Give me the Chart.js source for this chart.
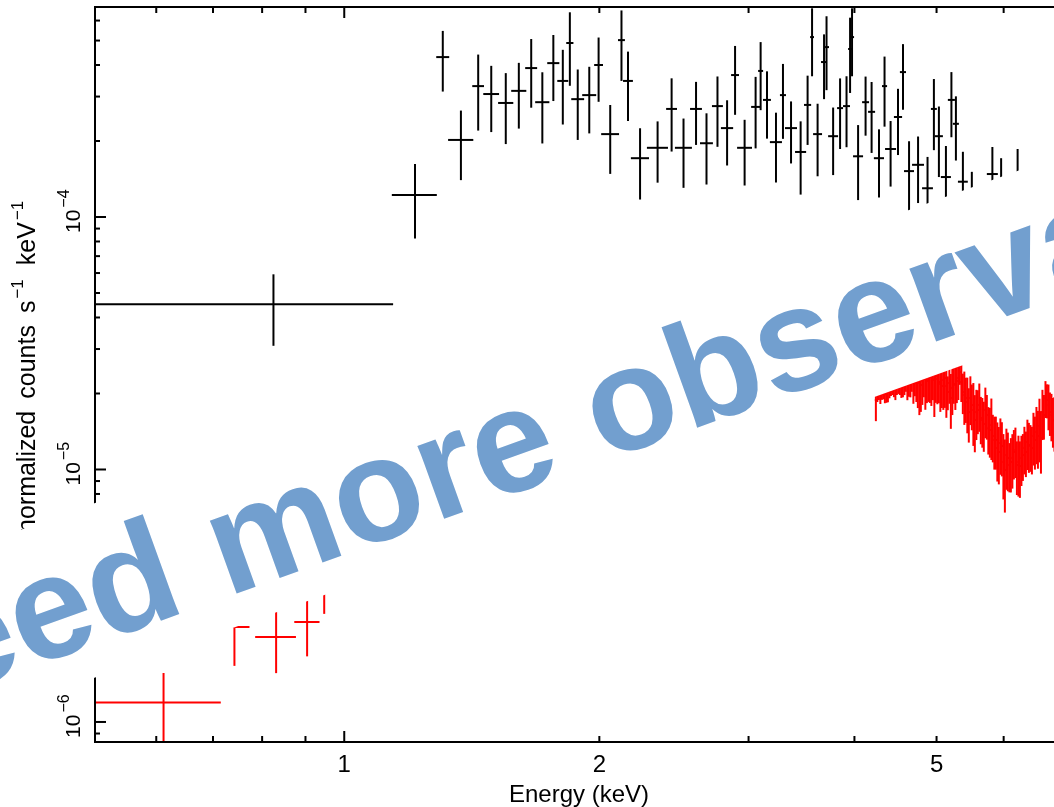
<!DOCTYPE html>
<html>
<head>
<meta charset="utf-8">
<script src="https://cdn.jsdelivr.net/npm/chart.js@4.4.0/dist/chart.umd.min.js"></script>
<style>
  html, body { margin: 0; padding: 0; background: #fff; overflow: hidden; }
  #wrap { width: 1054px; height: 807px; overflow: hidden; }
  canvas { display: block; }
</style>
</head>
<body>
<div id="wrap"><canvas id="spec" width="1100" height="807"></canvas></div>
<script>
// spectrum 1 (black): bin centre energy, half width (keV), flux and 1-sigma error
const blackE = [0.825, 1.212, 1.307, 1.373, 1.439, 1.491, 1.551, 1.607, 1.662, 1.713,
  1.765, 1.811, 1.846, 1.886, 1.946, 1.996, 2.060, 2.124, 2.162, 2.234,
  2.343, 2.434, 2.514, 2.601, 2.676, 2.757, 2.830, 2.892, 2.968, 3.058,
  3.100, 3.154, 3.232, 3.294, 3.367, 3.456, 3.522, 3.565, 3.619, 3.683,
  3.708, 3.775, 3.847, 3.915, 3.953, 3.974, 4.040, 4.123, 4.191, 4.276,
  4.341, 4.413, 4.503, 4.564, 4.640, 4.755, 4.879, 4.964, 5.032, 5.129,
  5.206, 5.270, 5.371, 5.503, 5.819, 5.959, 6.232];
const blackDE = [0.317, 0.074, 0.023, 0.047, 0.023, 0.032, 0.032, 0.033, 0.027, 0.033,
  0.029, 0.027, 0.018, 0.033, 0.037, 0.024, 0.050, 0.020, 0.029, 0.055,
  0.067, 0.036, 0.058, 0.042, 0.047, 0.041, 0.047, 0.031, 0.060, 0.037,
  0.021, 0.034, 0.053, 0.027, 0.055, 0.052, 0.034, 0.019, 0.044, 0.030,
  0.025, 0.051, 0.031, 0.037, 0.021, 0.022, 0.055, 0.039, 0.040, 0.059,
  0.030, 0.066, 0.050, 0.038, 0.063, 0.077, 0.072, 0.040, 0.055, 0.070,
  0.050, 0.043, 0.072, 0.030, 0.087, 0.050, 0.060];
const blackF = [4.51e-5, 1.222e-4, 4.30e-4, 2.02e-4, 3.30e-4, 3.07e-4, 2.83e-4, 3.16e-4, 3.89e-4, 2.85e-4,
  4.07e-4, 3.46e-4, 4.89e-4, 2.93e-4, 3.04e-4, 4.00e-4, 2.13e-4, 5.02e-4, 3.46e-4, 1.71e-4,
  1.88e-4, 2.68e-4, 1.88e-4, 2.68e-4, 1.96e-4, 2.75e-4, 2.25e-4, 3.65e-4, 1.88e-4, 2.73e-4,
  3.79e-4, 2.91e-4, 1.98e-4, 3.04e-4, 2.25e-4, 1.81e-4, 2.78e-4, 5.16e-4, 2.13e-4, 4.11e-4,
  4.71e-4, 2.09e-4, 2.70e-4, 2.75e-4, 4.63e-4, 5.16e-4, 1.74e-4, 2.85e-4, 2.61e-4, 1.71e-4,
  3.30e-4, 1.86e-4, 2.49e-4, 3.75e-4, 1.52e-4, 1.61e-4, 1.30e-4, 2.68e-4, 2.09e-4, 1.44e-4,
  2.91e-4, 2.34e-4, 1.38e-4, 1.12e-4, 1.48e-4, 1.28e-4, 1.40e-4];
const blackErr = [1.42e-5, 0.40e-4, 1.16e-4, 0.62e-4, 1.10e-4, 0.90e-4, 0.885e-4, 0.92e-4, 1.18e-4, 0.894e-4,
  1.19e-4, 1.135e-4, 1.58e-4, 0.91e-4, 0.896e-4, 1.14e-4, 0.648e-4, 1.56e-4, 1.06e-4, 0.537e-4,
  0.512e-4, 0.863e-4, 0.575e-4, 0.75e-4, 0.615e-4, 0.853e-4, 0.65e-4, 1.11e-4, 0.547e-4, 0.86e-4,
  1.14e-4, 0.866e-4, 0.61e-4, 1.00e-4, 0.62e-4, 0.583e-4, 0.85e-4, 1.55e-4, 0.68e-4, 1.18e-4,
  1.53e-4, 0.624e-4, 0.84e-4, 0.86e-4, 1.53e-4, 1.55e-4, 0.573e-4, 0.75e-4, 0.816e-4, 0.515e-4,
  1.02e-4, 0.54e-4, 0.73e-4, 1.09e-4, 0.476e-4, 0.474e-4, 0.43e-4, 0.84e-4, 0.65e-4, 0.471e-4,
  0.84e-4, 0.666e-4, 0.433e-4, 0.39e-4, 0.414e-4, 0.43e-4, 0.46e-4];

// spectrum 2 (red): a few soft bins, then the finely binned hard band
const redE = [0.612, 0.742, 0.831, 0.904, 0.947,
  4.240, 4.257, 4.275, 4.292, 4.310, 4.327, 4.345, 4.363, 4.381, 4.399,
  4.417, 4.435, 4.453, 4.471, 4.489, 4.507, 4.526, 4.544, 4.563, 4.582,
  4.600, 4.619, 4.638, 4.657, 4.675, 4.695, 4.714, 4.733, 4.752, 4.772,
  4.791, 4.811, 4.830, 4.850, 4.870, 4.890, 4.910, 4.930, 4.950, 4.970,
  4.990, 5.011, 5.031, 5.052, 5.072, 5.093, 5.114, 5.135, 5.155, 5.177,
  5.198, 5.219, 5.240, 5.262, 5.283, 5.305, 5.326, 5.348, 5.370, 5.392,
  5.414, 5.436, 5.458, 5.481, 5.503, 5.526, 5.548, 5.571, 5.593, 5.616,
  5.639, 5.662, 5.685, 5.709, 5.732, 5.755, 5.779, 5.803, 5.826, 5.850,
  5.874, 5.898, 5.922, 5.947, 5.971, 5.996, 6.020, 6.045, 6.069, 6.094,
  6.119, 6.144, 6.169, 6.195, 6.220, 6.246, 6.271, 6.297, 6.322, 6.348,
  6.374, 6.400, 6.426, 6.453, 6.479, 6.506, 6.532, 6.559, 6.586, 6.613,
  6.640, 6.667, 6.694, 6.722, 6.749, 6.777, 6.804, 6.832, 6.860, 6.888,
  6.916, 6.945, 6.973];
const redDE = [0.103, 0.031, 0.046, 0.031, 0.020,
  0.012, 0.012, 0.012, 0.012, 0.012, 0.012, 0.012, 0.012, 0.012, 0.012,
  0.012, 0.012, 0.012, 0.012, 0.012, 0.012, 0.012, 0.012, 0.012, 0.012,
  0.013, 0.013, 0.013, 0.013, 0.013, 0.013, 0.013, 0.013, 0.013, 0.013,
  0.013, 0.013, 0.013, 0.013, 0.013, 0.013, 0.013, 0.013, 0.013, 0.013,
  0.015, 0.015, 0.015, 0.015, 0.015, 0.015, 0.015, 0.015, 0.015, 0.015,
  0.015, 0.015, 0.015, 0.015, 0.015, 0.015, 0.015, 0.015, 0.015, 0.015,
  0.016, 0.016, 0.016, 0.016, 0.016, 0.016, 0.016, 0.016, 0.016, 0.016,
  0.016, 0.016, 0.016, 0.016, 0.016, 0.016, 0.016, 0.016, 0.016, 0.016,
  0.018, 0.018, 0.018, 0.018, 0.018, 0.018, 0.018, 0.018, 0.018, 0.018,
  0.018, 0.018, 0.018, 0.018, 0.018, 0.018, 0.018, 0.018, 0.018, 0.018,
  0.020, 0.020, 0.020, 0.020, 0.020, 0.020, 0.020, 0.020, 0.020, 0.020,
  0.020, 0.020, 0.020, 0.020, 0.020, 0.020, 0.020, 0.020, 0.020, 0.020,
  0.020, 0.020, 0.020];
const redF = [1.193e-6, 2.378e-6, 2.171e-6, 2.489e-6, 3.49e-6,
  1.884e-5, 1.990e-5, 2.009e-5, 2.027e-5, 2.027e-5, 2.046e-5, 1.990e-5, 2.027e-5, 2.046e-5, 2.084e-5,
  2.065e-5, 2.103e-5, 2.084e-5, 2.103e-5, 2.103e-5, 2.142e-5, 2.142e-5, 2.161e-5, 2.122e-5, 2.181e-5,
  2.181e-5, 2.201e-5, 2.161e-5, 2.201e-5, 2.201e-5, 2.221e-5, 2.221e-5, 2.201e-5, 2.201e-5, 2.262e-5,
  2.161e-5, 2.242e-5, 2.283e-5, 2.304e-5, 2.242e-5, 2.262e-5, 2.325e-5, 2.325e-5, 2.262e-5, 2.304e-5,
  2.346e-5, 2.283e-5, 2.221e-5, 2.181e-5, 2.142e-5, 2.262e-5, 2.304e-5, 2.142e-5, 2.027e-5, 2.201e-5,
  1.919e-5, 2.103e-5, 2.181e-5, 2.161e-5, 2.242e-5, 2.304e-5, 2.434e-5, 2.221e-5, 2.027e-5, 1.972e-5,
  1.919e-5, 1.851e-5, 1.688e-5, 1.919e-5, 1.800e-5, 1.720e-5, 1.570e-5, 1.688e-5, 1.720e-5, 1.800e-5,
  1.599e-5, 1.570e-5, 1.515e-5, 1.720e-5, 1.643e-5, 1.456e-5, 1.434e-5, 1.500e-5, 1.357e-5, 1.309e-5,
  1.309e-5, 1.216e-5, 1.173e-5, 1.273e-5, 1.239e-5, 1.071e-5, 0.995e-5, 1.141e-5, 1.110e-5, 1.042e-5,
  1.071e-5, 1.110e-5, 1.173e-5, 1.195e-5, 1.042e-5, 1.071e-5, 1.032e-5, 1.110e-5, 1.141e-5, 1.216e-5,
  1.173e-5, 1.285e-5, 1.250e-5, 1.239e-5, 1.216e-5, 1.357e-5, 1.309e-5, 1.409e-5, 1.357e-5, 1.487e-5,
  1.333e-5, 1.688e-5, 1.643e-5, 1.919e-5, 1.884e-5, 1.800e-5, 1.688e-5, 1.643e-5, 1.570e-5, 1.557e-5,
  1.500e-5, 1.470e-5, 1.434e-5];
const redErr = [0.37e-6, 0.71e-6, 0.61e-6, 0.67e-6, 0.81e-6,
  0.33e-5, 0.14e-5, 0.125e-5, 0.21e-5, 0.14e-5, 0.15e-5, 0.16e-5, 0.19e-5, 0.20e-5, 0.17e-5,
  0.11e-5, 0.13e-5, 0.15e-5, 0.22e-5, 0.13e-5, 0.15e-5, 0.17e-5, 0.24e-5, 0.19e-5, 0.21e-5,
  0.15e-5, 0.32e-5, 0.22e-5, 0.27e-5, 0.17e-5, 0.40e-5, 0.27e-5, 0.35e-5, 0.45e-5, 0.62e-5,
  0.47e-5, 0.44e-5, 0.35e-5, 0.58e-5, 0.41e-5, 0.41e-5, 0.49e-5, 0.54e-5, 0.38e-5, 0.69e-5,
  0.51e-5, 0.47e-5, 0.39e-5, 0.49e-5, 0.39e-5, 0.54e-5, 0.55e-5, 0.54e-5, 0.31e-5, 0.38e-5,
  0.47e-5, 0.46e-5, 0.36e-5, 0.44e-5, 0.41e-5, 0.42e-5, 0.27e-5, 0.37e-5, 0.37e-5, 0.47e-5,
  0.39e-5, 0.46e-5, 0.41e-5, 0.42e-5, 0.37e-5, 0.48e-5, 0.40e-5, 0.38e-5, 0.34e-5, 0.39e-5,
  0.34e-5, 0.35e-5, 0.34e-5, 0.39e-5, 0.33e-5, 0.31e-5, 0.32e-5, 0.41e-5, 0.29e-5, 0.31e-5,
  0.31e-5, 0.32e-5, 0.30e-5, 0.32e-5, 0.30e-5, 0.31e-5, 0.32e-5, 0.31e-5, 0.29e-5, 0.23e-5,
  0.26e-5, 0.27e-5, 0.26e-5, 0.27e-5, 0.25e-5, 0.29e-5, 0.26e-5, 0.25e-5, 0.24e-5, 0.26e-5,
  0.24e-5, 0.29e-5, 0.28e-5, 0.26e-5, 0.26e-5, 0.32e-5, 0.31e-5, 0.36e-5, 0.35e-5, 0.42e-5,
  0.37e-5, 0.38e-5, 0.33e-5, 0.32e-5, 0.29e-5, 0.37e-5, 0.33e-5, 0.35e-5, 0.35e-5, 0.38e-5,
  0.36e-5, 0.36e-5, 0.34e-5];

// axes
const xRange = [0.508, 7.05];
const yRange = [8.33e-7, 6.79e-4];
const xMajorTicks = [1];
const xMinorTicks = [0.6, 0.7, 0.8, 0.9, 2, 3, 4, 5, 6, 7];
const xTickLabels = [1, 2, 5];
const yMajorTicks = [1e-6, 1e-5, 1e-4];
const yMinorTicks = [9e-7, 2e-6, 3e-6, 4e-6, 5e-6, 6e-6, 7e-6, 8e-6, 9e-6,
  2e-5, 3e-5, 4e-5, 5e-5, 6e-5, 7e-5, 8e-5, 9e-5, 2e-4, 3e-4, 4e-4, 5e-4, 6e-4];
const yTickExponents = [-6, -5, -4];

const xTitle = 'Energy (keV)';
// y title pieces: [text, superscript?, gap after]
const yTitle = [['normalized', false, 12], ['counts', false, 12], ['s', false, 2],
  ['\u22121', true, 14], ['keV', false, 2], ['\u22121', true, 0]];
const stamp = 'Need more observations';

const FONT = "'Liberation Sans', Arial, sans-serif";

function seg(ctx, x1, y1, x2, y2) {
  ctx.beginPath();
  ctx.moveTo(x1, y1);
  ctx.lineTo(x2, y2);
  ctx.stroke();
}

// error crosses, one per bin
function drawCrosses(chart, es, des, fs, errs, color) {
  const { ctx, chartArea: a } = chart;
  const x = chart.scales.x, y = chart.scales.y;
  ctx.save();
  ctx.beginPath();
  ctx.rect(a.left, a.top, a.right - a.left, a.bottom - a.top);
  ctx.clip();
  ctx.strokeStyle = color;
  ctx.lineWidth = 2;
  for (let i = 0; i < es.length; i++) {
    const px = x.getPixelForValue(es[i]);
    const py = y.getPixelForValue(fs[i]);
    const lo = fs[i] - errs[i];
    seg(ctx, x.getPixelForValue(es[i] - des[i]), py, x.getPixelForValue(es[i] + des[i]), py);
    seg(ctx, px, y.getPixelForValue(fs[i] + errs[i]), px, lo > 0 ? y.getPixelForValue(lo) : a.bottom + 5);
  }
  ctx.restore();
}

function drawAxes(chart) {
  const { ctx, chartArea: a } = chart;
  const x = chart.scales.x, y = chart.scales.y;
  ctx.save();
  ctx.strokeStyle = '#000';
  ctx.lineWidth = 2;
  seg(ctx, a.left, a.top, a.left, a.bottom);
  seg(ctx, a.left - 1, a.top, a.right, a.top);
  seg(ctx, a.left - 1, a.bottom, a.right, a.bottom);

  xMajorTicks.concat(xMinorTicks).forEach(v => {
    const len = xMajorTicks.includes(v) ? 11 : 6;
    const px = x.getPixelForValue(v);
    seg(ctx, px, a.bottom, px, a.bottom - len);
    seg(ctx, px, a.top, px, a.top + len);
  });
  yMajorTicks.concat(yMinorTicks).forEach(v => {
    const len = yMajorTicks.includes(v) ? 11 : 5;
    const py = y.getPixelForValue(v);
    seg(ctx, a.left, py, a.left + len, py);
  });

  ctx.fillStyle = '#000';
  ctx.font = `24px ${FONT}`;
  ctx.textAlign = 'center';
  ctx.textBaseline = 'alphabetic';
  xTickLabels.forEach(v => ctx.fillText(String(v), x.getPixelForValue(v), 772));
  ctx.fillText(xTitle, (a.left + a.right) / 2, 802);

  // rotated decade labels 10^n
  ctx.textAlign = 'left';
  yMajorTicks.forEach((v, i) => {
    const py = y.getPixelForValue(v);
    ctx.save();
    ctx.translate(80, py + 16);
    ctx.rotate(-Math.PI / 2);
    ctx.font = `21px ${FONT}`;
    ctx.fillText('10', 0, 0);
    const w = ctx.measureText('10').width;
    ctx.font = `16px ${FONT}`;
    ctx.fillText('\u2212' + Math.abs(yTickExponents[i]), w + 2, -11);
    ctx.restore();
  });

  // y title, read upwards from just above the lower end of the axis
  ctx.save();
  ctx.translate(35, 533);
  ctx.rotate(-Math.PI / 2);
  let cx = 0;
  yTitle.forEach(([t, sup, gap]) => {
    ctx.font = sup ? `17px ${FONT}` : `25px ${FONT}`;
    ctx.fillText(t, cx, sup ? -12 : 0);
    cx += ctx.measureText(t).width + gap;
  });
  ctx.restore();
  ctx.restore();
}

// banner lettering on its own white strip
function drawStamp(chart) {
  const ctx = chart.ctx;
  const size = 147;
  ctx.save();
  ctx.translate(-149.7, 732.5);
  ctx.rotate(-19.8 * Math.PI / 180);
  ctx.font = `bold ${size}px ${FONT}`;
  const w = ctx.measureText(stamp).width;
  ctx.fillStyle = '#fff';
  ctx.fillRect(-20, -0.905 * size, w + 40, 1.117 * size);
  ctx.fillStyle = '#729fcf';
  ctx.textBaseline = 'alphabetic';
  ctx.fillText(stamp, 0, 0);
  ctx.restore();
}

const spectrumPlugin = {
  id: 'spectrum',
  afterDraw(chart) {
    drawCrosses(chart, blackE, blackDE, blackF, blackErr, '#000');
    drawCrosses(chart, redE, redDE, redF, redErr, '#ff0000');
    drawAxes(chart);
    drawStamp(chart);
  }
};

const ctx = document.getElementById('spec').getContext('2d');
new Chart(ctx, {
  type: 'scatter',
  data: {
    datasets: [
      { label: 'black', data: blackE.map((e, i) => ({ x: e, y: blackF[i] })), pointRadius: 0, borderColor: '#000' },
      { label: 'red', data: redE.map((e, i) => ({ x: e, y: redF[i] })), pointRadius: 0, borderColor: '#f00' }
    ]
  },
  options: {
    responsive: false,
    animation: false,
    devicePixelRatio: 1,
    layout: { padding: { left: 95, top: 7, right: 37, bottom: 65 } },
    plugins: { legend: { display: false }, tooltip: { enabled: false } },
    scales: {
      x: { type: 'logarithmic', min: xRange[0], max: xRange[1], display: false },
      y: { type: 'logarithmic', min: yRange[0], max: yRange[1], display: false }
    }
  },
  plugins: [spectrumPlugin]
});
</script>
</body>
</html>
